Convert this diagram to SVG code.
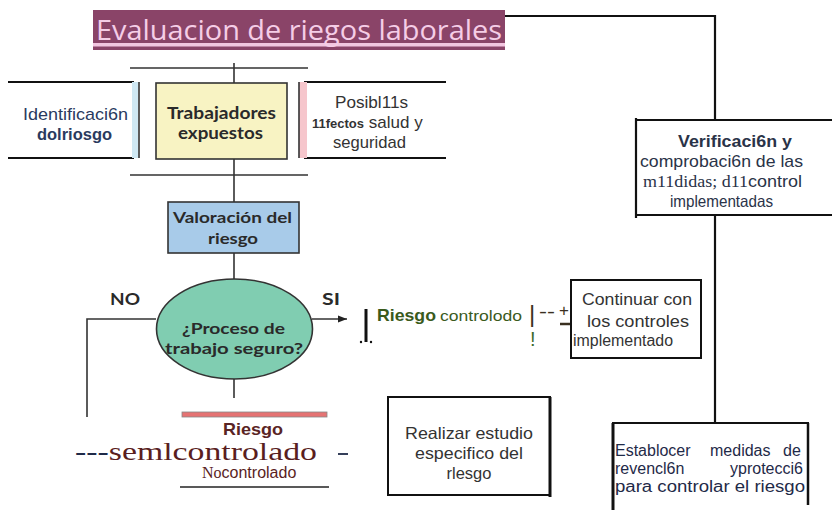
<svg xmlns="http://www.w3.org/2000/svg" width="832" height="510" viewBox="0 0 832 510">
<defs>
<style>
.ln{stroke:#111;stroke-width:2.2;fill:none}
.ln2{stroke:#333;stroke-width:1.6;fill:none}
.sans{font-family:"Liberation Sans",Arial,sans-serif}
.round{font-family:"Lato","Open Sans",sans-serif;font-weight:bold;fill:#2a2a2a}
.serif{font-family:"Liberation Serif","Times New Roman",serif}
</style>
<marker id="arr" markerWidth="10" markerHeight="10" refX="9" refY="5" orient="auto" markerUnits="userSpaceOnUse">
<path d="M0,1.5 L9,5 L0,8.5 Z" fill="#222"/>
</marker>
</defs>
<rect width="832" height="510" fill="#fff"/>

<g id="connectors">
<path class="ln" d="M505,16 H715 V120"/>
<path class="ln" d="M715,215 V423"/>
<path class="ln2" d="M234,63 V83"/>
<path class="ln2" d="M234,159 V202"/>
<path class="ln2" d="M234,253 V279"/>
<path class="ln2" d="M234,379 V398"/>
<path class="ln2" d="M156,319 H87 V417"/>
<path class="ln2" d="M312,319 H347" marker-end="url(#arr)"/>
</g>

<g id="title">
<rect x="93" y="10" width="412" height="40" fill="#8a4468"/>
<rect x="93" y="43" width="412" height="3.5" fill="#f2c6e0"/>
<text x="96" y="40" font-family="Open Sans,Liberation Sans,sans-serif" font-size="28" fill="#f5cde6" textLength="406" lengthAdjust="spacingAndGlyphs">Evaluacion de riegos laborales</text>
</g>

<g id="trabajadores">
<path class="ln2" d="M130,68 H308 M130,175 H308"/>
<rect x="156" y="83" width="131" height="76" fill="#f8f3c3" stroke="#333" stroke-width="1.6"/>
<text class="round" x="167" y="119" font-size="17" textLength="109" lengthAdjust="spacingAndGlyphs">Trabajadores</text>
<text class="round" x="178" y="139" font-size="17" textLength="85" lengthAdjust="spacingAndGlyphs">expuestos</text>
</g>

<g id="identificacion">
<path class="ln" d="M8,82 H134 M8,158 H134"/>
<rect x="132" y="82" width="6" height="76" fill="#cfe8f3"/>
<path class="ln2" d="M139,82 V158"/>
<text class="sans" x="23" y="120" font-size="17" fill="#2a3a5e" textLength="105" lengthAdjust="spacingAndGlyphs">Identificaci6n</text>
<text class="sans" x="37" y="140" font-size="16" font-weight="bold" fill="#2a3a5e" textLength="75" lengthAdjust="spacingAndGlyphs">dolriosgo</text>
</g>

<g id="efectos">
<path class="ln" d="M304,82 H446 M304,158 H446"/>
<rect x="299" y="82" width="8" height="76" fill="#f6c6cc"/>
<path class="ln2" d="M299,82 V158"/>
<text class="sans" x="335" y="108" font-size="17" fill="#333" textLength="73" lengthAdjust="spacingAndGlyphs">Posibl11s</text>
<text class="sans" x="312" y="128" font-size="17" fill="#333"><tspan font-size="13" font-weight="bold">11fectos</tspan> salud y</text>
<text class="sans" x="333" y="148" font-size="17" fill="#333" textLength="73" lengthAdjust="spacingAndGlyphs">seguridad</text>
</g>

<g id="valoracion">
<rect x="168" y="202" width="131" height="51" fill="#a8cbe9" stroke="#333" stroke-width="1.6"/>
<text class="round" x="173" y="223" font-size="16" textLength="119" lengthAdjust="spacingAndGlyphs">Valoración del</text>
<text class="round" x="208" y="244" font-size="16" textLength="50" lengthAdjust="spacingAndGlyphs">riesgo</text>
</g>

<g id="decision">
<ellipse cx="234.5" cy="329" rx="78" ry="50" fill="#80cdb1" stroke="#333" stroke-width="1.6"/>
<text class="round" x="182" y="334" font-size="16" font-weight="600" textLength="103" lengthAdjust="spacingAndGlyphs">¿Proceso de</text>
<text class="round" x="165" y="354" font-size="16" font-weight="600" textLength="138" lengthAdjust="spacingAndGlyphs">trabajo  seguro?</text>
<text class="round" x="110" y="305" font-size="17" textLength="30" lengthAdjust="spacingAndGlyphs">NO</text>
<text class="round" x="322" y="305" font-size="17" textLength="18" lengthAdjust="spacingAndGlyphs">SI</text>
</g>

<g id="riesgo-controlado">
<path d="M366,309 V342" stroke="#111" stroke-width="3"/>
<circle cx="361" cy="342" r="1.2" fill="#111"/>
<circle cx="371" cy="342" r="1.2" fill="#111"/>
<text class="sans" x="377" y="321" font-size="17" fill="#3a5a1c" font-weight="bold" textLength="59" lengthAdjust="spacingAndGlyphs">Riesgo</text>
<text class="sans" x="440" y="321" font-size="15.5" fill="#3a5a1c" textLength="82" lengthAdjust="spacingAndGlyphs">controlodo</text>
<text class="sans" x="529" y="322" font-size="24" fill="#3a3020">|</text>
<text class="sans" x="530" y="346" font-size="20" fill="#3d6a2a">!</text>
<text class="sans" x="539" y="318" font-size="18" fill="#3a3020" textLength="16" lengthAdjust="spacingAndGlyphs">--</text>
<text class="sans" x="559" y="316" font-size="17" fill="#3a3020">+</text>
<path d="M560,324 H572" stroke="#3a3020" stroke-width="2.5"/>
</g>

<g id="continuar">
<rect x="571" y="280" width="130" height="78" fill="#fff" stroke="#111" stroke-width="2"/>
<text class="sans" x="582" y="305" font-size="16.5" fill="#333" textLength="110" lengthAdjust="spacingAndGlyphs">Continuar con</text>
<text class="sans" x="587" y="327" font-size="16.5" fill="#333" textLength="102" lengthAdjust="spacingAndGlyphs">los controles</text>
<text class="sans" x="573" y="346" font-size="16" fill="#333" textLength="100" lengthAdjust="spacingAndGlyphs">implementado</text>
</g>

<g id="verificacion">
<path class="ln" d="M636,120 H832 M636,215 H832 M636,118 V218"/>
<text class="sans" x="678" y="147" font-size="16" font-weight="bold" fill="#2a3348" textLength="114" lengthAdjust="spacingAndGlyphs">Verificaci6n y</text>
<text class="sans" x="640" y="167" font-size="17" fill="#2a3348" textLength="163" lengthAdjust="spacingAndGlyphs">comprobaci6n de las</text>
<text x="643" y="187" font-size="17" fill="#2a3348" textLength="159" lengthAdjust="spacingAndGlyphs"><tspan class="serif">m11didas; d11</tspan><tspan class="sans">control</tspan></text>
<text class="sans" x="670" y="207" font-size="16.5" fill="#2a3348" textLength="103" lengthAdjust="spacingAndGlyphs">implementadas</text>
</g>

<g id="no-controlado">
<rect x="182" y="412" width="145" height="5" fill="#e57373" stroke="#888" stroke-width="0.8"/>
<text class="sans" x="223" y="435" font-size="17" font-weight="bold" fill="#5a2424" textLength="60" lengthAdjust="spacingAndGlyphs">Riesgo</text>
<text class="serif" x="75" y="460" font-size="25" textLength="242" lengthAdjust="spacingAndGlyphs"><tspan fill="#1f2a48">---</tspan><tspan fill="#5a1e1e">semlcontrolado</tspan></text>
<path d="M338,454 H348" stroke="#1f2a48" stroke-width="1.8"/>
<text x="202" y="478" font-size="17" fill="#5a1e1e"><tspan class="serif" font-size="16">No</tspan><tspan class="sans" font-size="16">controlado</tspan></text>
<path d="M180,487 H329" stroke="#222" stroke-width="1.6"/>
</g>

<g id="realizar">
<rect x="388" y="397" width="162" height="98" fill="#fff" stroke="#111" stroke-width="2"/>
<path d="M550,397 V497" stroke="#111" stroke-width="3"/>
<text class="sans" x="405" y="439" font-size="16.5" fill="#333" textLength="128" lengthAdjust="spacingAndGlyphs">Realizar estudio</text>
<text class="sans" x="415" y="459" font-size="16.5" fill="#333" textLength="108" lengthAdjust="spacingAndGlyphs">especifico del</text>
<text class="sans" x="469" y="479" font-size="16.5" fill="#333" text-anchor="middle">rlesgo</text>
</g>

<g id="establecer">
<path class="ln" d="M612,423 H809"/>
<path d="M613,423 V510" stroke="#111" stroke-width="3"/>
<path d="M808,423 V505" stroke="#111" stroke-width="2.5"/>
<text class="sans" font-size="16" fill="#1f2a48" y="456"><tspan x="615">Establocer</tspan><tspan x="710">medidas</tspan><tspan x="783">de</tspan></text>
<text class="sans" font-size="16" fill="#1f2a48" y="474"><tspan x="615">revencl6n</tspan><tspan x="730">yprotecci6</tspan></text>
<text class="sans" x="615" y="492" font-size="16" fill="#1f2a48" textLength="190" lengthAdjust="spacingAndGlyphs">para controlar el riesgo</text>
</g>
</svg>
